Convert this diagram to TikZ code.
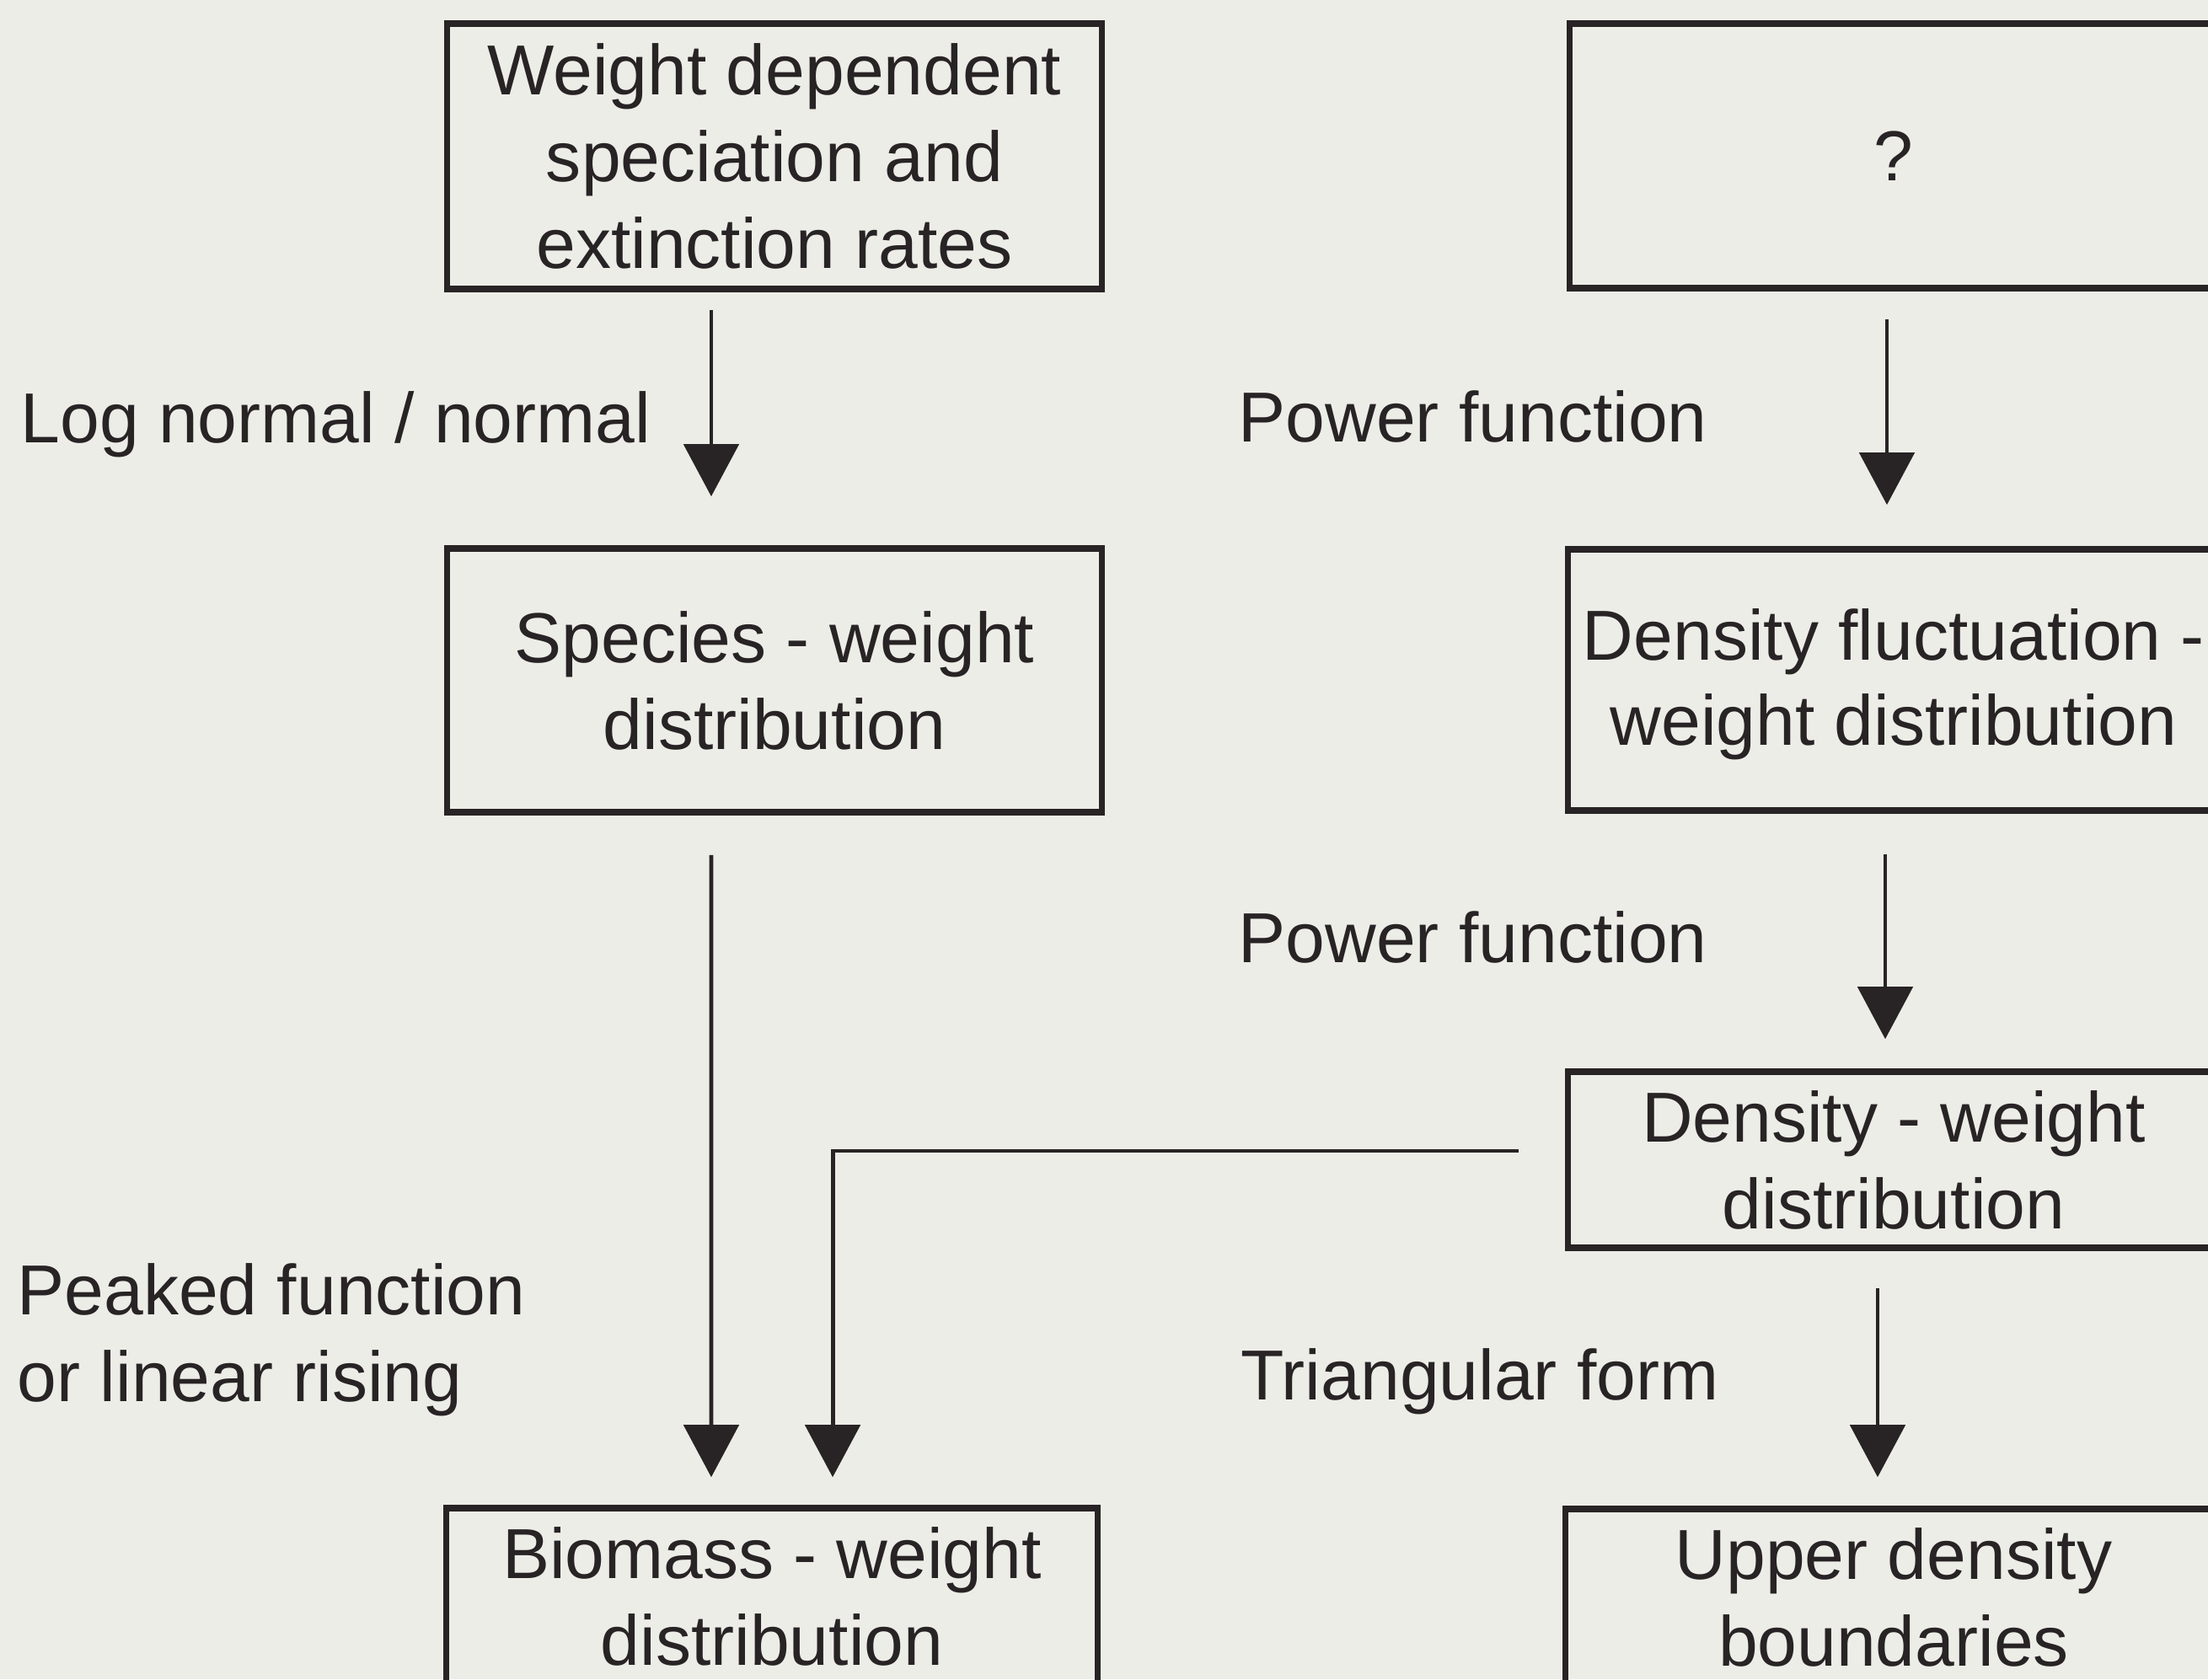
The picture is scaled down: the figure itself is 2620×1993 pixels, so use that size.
\documentclass[tikz,border=0pt]{standalone}
\usepackage{fontspec}
\setmainfont{Liberation Sans}
\usetikzlibrary{arrows.meta}
\definecolor{ink}{RGB}{40,35,36}
\definecolor{paper}{RGB}{237,237,232}
\begin{document}
\begin{tikzpicture}[x=0.01cm,y=-0.01cm,
  txt/.style={font=\fontsize{23.9}{29.3}\selectfont},
  box/.style={txt, draw=ink, line width=2.1pt, text=ink, align=center, inner sep=0pt, minimum width=7.76cm},
  lbl/.style={txt, text=ink, inner sep=0pt},
  arr/.style={draw=ink, line width=1.4pt, -{Triangle[length=0.62cm,width=0.65cm]}}]
\useasboundingbox (0,0) rectangle (2620,1993);
\fill[paper] (0,0) rectangle (2620,1993);
\clip (0,0) rectangle (2620,1993);

\node[box, minimum height=3.15cm] (b1) at (919,185.5) {Weight dependent\\speciation and\\extinction rates};
\node[box, minimum width=7.68cm, minimum height=3.14cm] (b2) at (2247,185) {?};
\node[box, minimum height=3.13cm] (b3) at (919,807.5) {Species - weight\\distribution};
\node[box, minimum width=7.72cm, minimum height=3.10cm, font=\fontsize{23.9}{28.6}\selectfont, text depth=0pt, text height=1.54cm] (b4) at (2247,807) {Density fluctuation -\\weight distribution};
\node[box, minimum width=7.72cm, minimum height=2.09cm] (b5) at (2247,1376.5) {Density - weight\\distribution};
\node[box, minimum width=7.72cm, minimum height=2.09cm] (b6) at (916,1894.5) {Biomass - weight\\distribution};
\node[box, minimum width=7.78cm, minimum height=2.09cm] (b7) at (2247,1895.5) {Upper density\\boundaries};

\draw[arr] ([xshift=-0.75cm,yshift=-0.21cm]b1.south) -- ([xshift=-0.75cm,yshift=0.58cm]b3.north);
\draw[arr] ([xshift=-0.75cm,yshift=-0.47cm]b3.south) -- ([xshift=-0.72cm,yshift=0.33cm]b6.north);
\draw[arr] ([xshift=-0.55cm,yshift=0.105cm]b5.west) -| ([xshift=0.72cm,yshift=0.33cm]b6.north);
\draw[arr] ([xshift=-0.08cm,yshift=-0.33cm]b2.south) -- ([xshift=-0.08cm,yshift=0.49cm]b4.north);
\draw[arr] ([xshift=-0.10cm,yshift=-0.48cm]b4.south) -- ([xshift=-0.10cm,yshift=0.35cm]b5.north);
\draw[arr] ([xshift=-0.19cm,yshift=-0.44cm]b5.south) -- ([xshift=-0.19cm,yshift=0.34cm]b7.north);

\node[lbl, anchor=base west] (l1) at (24,525) {Log normal / normal};
\node[lbl, anchor=base west] (l2) at (1469,524) {Power function};
\node[lbl, anchor=base west] (l3) at (1469,1142) {Power function};
\node[lbl, anchor=base west] (l4) at (1472,1661) {Triangular form};
\node[lbl, anchor=north west, align=left] (l5) at (20,1499) {Peaked function\\or linear rising};
\end{tikzpicture}
\end{document}
